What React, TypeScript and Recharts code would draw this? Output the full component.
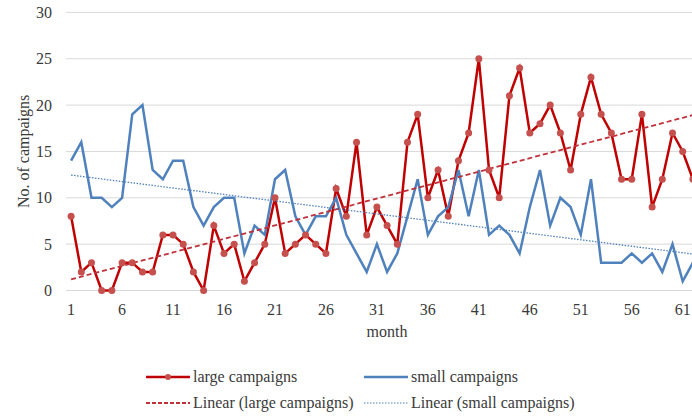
import { LineChart, Line, XAxis, YAxis, CartesianGrid } from "recharts";

// monthly campaign counts, months 1..62
const months = Array.from({ length: 62 }, (_, i) => i + 1);

const largeCampaigns = [
  8, 2, 3, 0, 0, 3, 3, 2, 2, 6, 6, 5, 2, 0, 7, 4, 5, 1, 3, 5,
  10, 4, 5, 6, 5, 4, 11, 8, 16, 6, 9, 7, 5, 16, 19, 10, 13, 8, 14, 17,
  25, 13, 10, 21, 24, 17, 18, 20, 17, 13, 19, 23, 19, 17, 12, 12, 19, 9, 12, 17,
  15, 12,
];

const smallCampaigns = [
  14, 16, 10, 10, 9, 10, 19, 20, 13, 12, 14, 14, 9, 7, 9, 10, 10, 4, 7, 6,
  12, 13, 8, 6, 8, 8, 10, 6, 4, 2, 5, 2, 4, 8, 12, 6, 8, 9, 13, 8,
  13, 6, 7, 6, 4, 9, 13, 7, 10, 9, 6, 12, 3, 3, 3, 4, 3, 4, 2, 5,
  1, 3,
];

const yTicks = [0, 5, 10, 15, 20, 25, 30];

const RED = "#C00000";
const RED_MARK = "#C5504E";
const BLUE = "#4F81BD";
const TEXT = "#3A3A3A";
const FONT = "Liberation Serif, Times New Roman, serif";
const FONT_SIZE = 16;

// least-squares linear trend, same as a spreadsheet "Linear" trendline
function linearTrend(xs: number[], ys: number[]): number[] {
  const n = xs.length;
  const mx = xs.reduce((a, b) => a + b, 0) / n;
  const my = ys.reduce((a, b) => a + b, 0) / n;
  let num = 0;
  let den = 0;
  for (let i = 0; i < n; i++) {
    num += (xs[i] - mx) * (ys[i] - my);
    den += (xs[i] - mx) ** 2;
  }
  const slope = num / den;
  const intercept = my - slope * mx;
  return xs.map((x) => intercept + slope * x);
}

const largeTrend = linearTrend(months, largeCampaigns);
const smallTrend = linearTrend(months, smallCampaigns);

const data = months.map((m, i) => ({
  month: m,
  large: largeCampaigns[i],
  small: smallCampaigns[i],
  largeTrend: largeTrend[i],
  smallTrend: smallTrend[i],
}));

function Swatch({ color, dash, width, marker }: { color: string; dash?: string; width: number; marker?: boolean }) {
  return (
    <svg width={44} height={10} style={{ display: "block" }}>
      <line x1={0} y1={5} x2={44} y2={5} stroke={color} strokeWidth={width} strokeDasharray={dash} />
      {marker && <circle cx={22} cy={5} r={3} fill={RED_MARK} />}
    </svg>
  );
}

const legendItems = [
  { label: "large campaigns", left: 146, top: 377, swatch: <Swatch color={RED} width={2.5} marker /> },
  { label: "small campaigns", left: 364, top: 377, swatch: <Swatch color={BLUE} width={2.5} /> },
  { label: "Linear (large campaigns)", left: 146, top: 403, swatch: <Swatch color="#C0303A" width={2} dash="4 2" /> },
  { label: "Linear (small campaigns)", left: 364, top: 403, swatch: <Swatch color={BLUE} width={1.2} dash="1.5 1.5" /> },
];

const axisText = { fill: TEXT, fontSize: FONT_SIZE, fontFamily: FONT };

export default function App() {
  return (
    <div
      style={{
        position: "absolute",
        left: 0,
        top: 0,
        width: 692,
        height: 416,
        overflow: "hidden",
        background: "#fff",
        fontFamily: FONT,
      }}
    >
      <LineChart width={700} height={416} data={data} margin={{ top: 12.4, right: 2, left: 0, bottom: 75.5 }}>
        <CartesianGrid vertical={false} stroke="#D9D9D9" />
        <XAxis
          dataKey="month"
          height={50}
          interval={4}
          padding={{ left: 5.1, right: 5.1 }}
          axisLine={false}
          tickLine={false}
          tickSize={0}
          tickMargin={13}
          tick={axisText}
          label={{ value: "month", position: "insideBottom", offset: 4, dx: 5, ...axisText }}
        />
        <YAxis
          domain={[0, 30]}
          ticks={yTicks}
          width={66}
          axisLine={false}
          tickLine={false}
          tickSize={0}
          tickMargin={14}
          tick={axisText}
          label={{ value: "No. of campaigns", angle: -90, position: "center", dx: -10, ...axisText }}
        />
        <Line
          dataKey="large"
          stroke={RED}
          strokeWidth={2.5}
          dot={{ r: 3.5, fill: RED_MARK, stroke: RED_MARK, strokeWidth: 0 }}
          isAnimationActive={false}
        />
        <Line dataKey="small" stroke={BLUE} strokeWidth={2.5} dot={false} isAnimationActive={false} />
        <Line
          dataKey="largeTrend"
          stroke="#C0303A"
          strokeWidth={1.8}
          strokeDasharray="5 3"
          dot={false}
          isAnimationActive={false}
        />
        <Line
          dataKey="smallTrend"
          stroke={BLUE}
          strokeWidth={1.3}
          strokeDasharray="1.5 1.5"
          dot={false}
          isAnimationActive={false}
        />
      </LineChart>
      {legendItems.map((item) => (
        <div
          key={item.label}
          style={{
            position: "absolute",
            left: item.left,
            top: item.top - 10,
            height: 20,
            display: "flex",
            alignItems: "center",
            gap: 3,
            fontSize: FONT_SIZE,
            color: TEXT,
            whiteSpace: "nowrap",
          }}
        >
          {item.swatch}
          <span>{item.label}</span>
        </div>
      ))}
    </div>
  );
}
